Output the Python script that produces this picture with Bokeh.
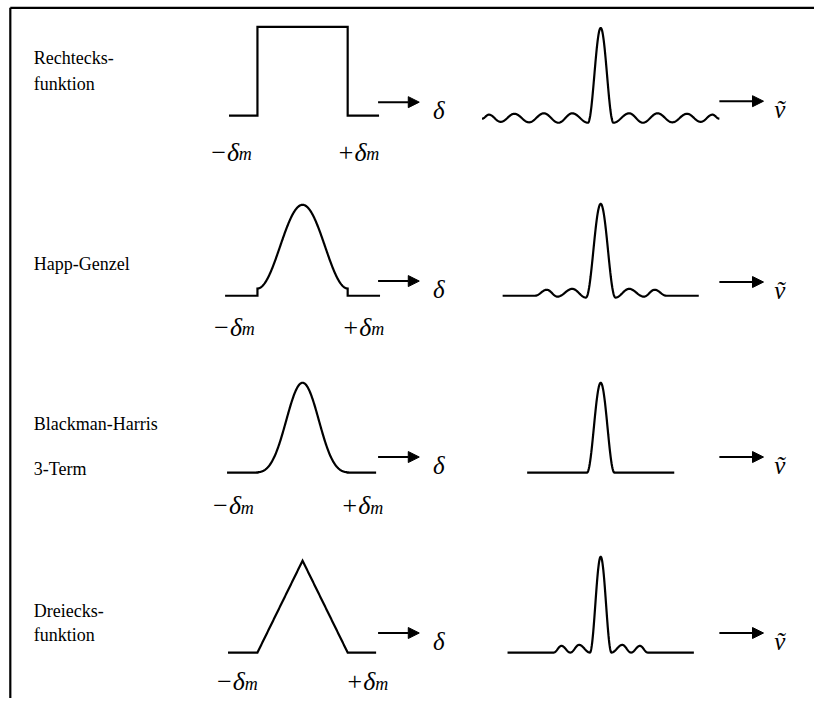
import numpy as np
from bokeh.plotting import figure
from bokeh.models import Range1d, Arrow, NormalHead
from bokeh.core.properties import value
from bokeh.embed import file_html
from bokeh.resources import INLINE

# ---------------- data ----------------
ROW_NAMES = [["Rechtecks-", "funktion"], ["Happ-Genzel"], ["Blackman-Harris", "3-Term"], ["Dreiecks-", "funktion"]]
WINDOW_KINDS = ["rect", "hamming", "blackman_harris", "triangle"]
HAMMING_COEFFS = [0.54, 0.46]
BH3_COEFFS = [0.42323, 0.49755, 0.07922]

# spectra: extrema positions (frequency offset from line centre) and amplitudes (% of main peak)
RECT_SPEC_X = [-121, -114, -102, -88, -73, -58, -43, -29, -13, 0, 13, 29, 43, 58, 73, 88, 102, 114, 121]
RECT_SPEC_A = [-1, 3.5, -4.5, 4.5, -5, 5, -5.5, 5, -5.5, 100, -5.5, 5, -5.5, 5, -5, 4.5, -4.5, 3.5, -1]
HG_SPEC_X = [-100, -67, -55, -44, -29, -15, 0, 15, 29, 44, 55, 67, 100]
HG_SPEC_A = [0, 0, 6.5, -1, 7.5, -2, 100, -2, 7.5, -1, 6.5, 0, 0]
BH_SPEC_X = [-75, -14, 0, 14, 75]
BH_SPEC_A = [0, 0, 100, 0, 0]
TRI_SPEC_X = [-95, -48, -40, -31, -22, -11, 0, 11, 22, 31, 40, 48, 95]
TRI_SPEC_A = [0, 0, 7, 0, 8, 0, 100, 0, 8, 0, 7, 0, 0]
SPECTRA = [(RECT_SPEC_X, RECT_SPEC_A), (HG_SPEC_X, HG_SPEC_A), (BH_SPEC_X, BH_SPEC_A), (TRI_SPEC_X, TRI_SPEC_A)]

# ---------------- layout (reference pixel units) ----------------
NAME_X = 34
NAME_Y = [[59, 85], [270], [433, 479], [625, 649]]
WIN_CX, WIN_HALF = 308, 46
WIN_LEFT = [233, 229, 231, 232]
WIN_RIGHT = [386, 387, 383, 383]
WIN_BASE = [117.7, 302, 483, 667]
WIN_H = [90.7, 93, 92, 94]
SPEC_CX = 612
SPEC_BASE = [120, 302, 483, 667]
SPEC_H = [92, 94, 92, 98]
ARROW1_Y = [104, 287, 467, 647]
ARROW2_Y = [103, 288, 467, 647]
LABEL_Y = [155, 334, 517, 697]
LABEL_LX = [213, 216, 215, 219]
LABEL_RX = [343, 348, 347, 352]

SERIF = value("Liberation Serif")

p = figure(width=814, height=698, x_range=Range1d(0, 830), y_range=Range1d(714, 0),
           output_backend="svg", toolbar_location=None, min_border=0,
           x_axis_location=None, y_axis_location=None)
p.grid.visible = False
p.outline_line_color = None
p.background_fill_color = "white"
p.border_fill_color = "white"

# frame (top and left)
p.line(x=[10, 830], y=[7.5, 7.5], line_color="black", line_width=2.2)
p.line(x=[10, 10], y=[7.5, 714], line_color="black", line_width=2.2)


def window_curve(kind, i):
    b, h = WIN_BASE[i], WIN_H[i]
    l, r = WIN_CX - WIN_HALF, WIN_CX + WIN_HALF
    u = np.linspace(-1, 1, 241)
    if kind == "rect":
        f = np.ones_like(u)
    elif kind == "hamming":
        f = HAMMING_COEFFS[0] + HAMMING_COEFFS[1] * np.cos(np.pi * u)
    elif kind == "blackman_harris":
        f = BH3_COEFFS[0] + BH3_COEFFS[1] * np.cos(np.pi * u) + BH3_COEFFS[2] * np.cos(2 * np.pi * u)
    else:
        f = 1 - np.abs(u)
    xs = [WIN_LEFT[i], l] + list(WIN_CX + WIN_HALF * u) + [r, WIN_RIGHT[i]]
    ys = [b, b] + list(b - h * f) + [b, b]
    return xs, ys


def smooth(xs, amps, cx, base, h, n=30):
    X, Y = [], []
    for k in range(len(xs) - 1):
        t = np.linspace(0, 1, n)
        s = (1 - np.cos(np.pi * t)) / 2
        x = xs[k] + (xs[k + 1] - xs[k]) * t
        a = amps[k] + (amps[k + 1] - amps[k]) * s
        X += list(cx + x)
        Y += list(base - h * a / 100.0)
    return X, Y


for i, kind in enumerate(WINDOW_KINDS):
    # row name
    for j, line in enumerate(ROW_NAMES[i]):
        p.text(x=[NAME_X], y=[NAME_Y[i][j]], text=[line], text_font=SERIF, text_font_size="18px",
               text_baseline="alphabetic", text_align="left", text_color="black")
    # window
    wx, wy = window_curve(kind, i)
    p.line(x=wx, y=wy, line_color="black", line_width=2.2, line_join="miter")
    # spectrum
    sx, sa = SPECTRA[i]
    X, Y = smooth(sx, sa, SPEC_CX, SPEC_BASE[i], SPEC_H[i])
    p.line(x=X, y=Y, line_color="black", line_width=2.2)
    # arrows
    p.add_layout(Arrow(end=NormalHead(size=11, fill_color="black", line_color="black", line_width=1),
                       x_start=385, y_start=ARROW1_Y[i], x_end=427, y_end=ARROW1_Y[i],
                       line_color="black", line_width=2))
    p.add_layout(Arrow(end=NormalHead(size=11, fill_color="black", line_color="black", line_width=1),
                       x_start=733, y_start=ARROW2_Y[i], x_end=778, y_end=ARROW2_Y[i],
                       line_color="black", line_width=2))
    p.text(x=[441], y=[ARROW1_Y[i] + 9], text=["δ"], text_font=SERIF, text_font_size="25px",
           text_font_style="italic", text_baseline="alphabetic", text_align="left", text_color="black")
    p.text(x=[789], y=[ARROW2_Y[i] + 9], text=["ṽ"], text_font=SERIF, text_font_size="25px",
           text_font_style="italic", text_baseline="alphabetic", text_align="left", text_color="black")
    # -delta_m / +delta_m labels
    for lx, sign in ((LABEL_LX[i], "−δ"), (LABEL_RX[i], "+δ")):
        p.text(x=[lx], y=[LABEL_Y[i]], text=[sign], text_font=SERIF, text_font_size="26px",
               text_font_style="italic", text_baseline="alphabetic", text_align="left", text_color="black")
        p.text(x=[lx + 30], y=[LABEL_Y[i] + 2], text=["m"], text_font=SERIF, text_font_size="18px",
               text_font_style="italic", text_baseline="alphabetic", text_align="left", text_color="black")

open("out.html", "w").write(file_html(p, INLINE))
